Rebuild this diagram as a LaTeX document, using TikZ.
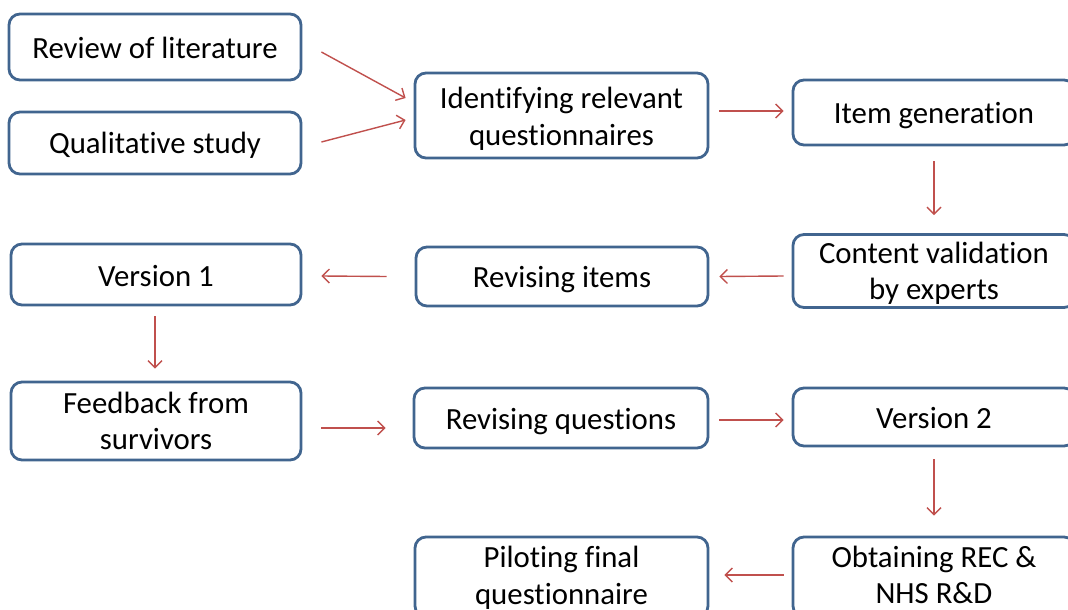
\documentclass[tikz,border=0pt]{standalone}
\usepackage{fontspec}
\setmainfont{Carlito}[Ligatures={NoCommon}]
\usetikzlibrary{calc,arrows.meta}
\definecolor{boxblue}{HTML}{41658F}
\definecolor{arrred}{HTML}{C0504D}
\newcommand{\twolines}[3]{\raisebox{#1}[\height][\depth]{\begin{tabular}{@{}c@{}}#2\\#3\end{tabular}}}
\newcommand{\oneline}[2]{\raisebox{#1}[\height][\depth]{#2}}
\tikzset{
  box/.style={draw=boxblue, line width=2.8pt, rounded corners=11pt, fill=white,
    align=center, font=\fontsize{30.8}{36.5}\selectfont, inner sep=0pt},
  arr/.style={draw=arrred, line width=1.4pt, -{Straight Barb[length=7pt,width=14pt,line width=1.4pt]}}
}
\begin{document}
\begin{tikzpicture}[x=1pt,y=-1pt]
\useasboundingbox (0,0) rectangle (1068,610);
\clip (0,0) rectangle (1068,610);
\node[box, minimum width=292pt, minimum height=66pt] (rev) at (155,47) {\oneline{-1pt}{Review of literature}};
\node[box, minimum width=292pt, minimum height=62pt] (qual) at (155,143) {\oneline{-2pt}{Qualitative study}};
\node[box, minimum width=293pt, minimum height=85pt] (ident) at (561.5,115.5) {\twolines{-4pt}{Identifying relevant}{questionnaires}};
\node[box, minimum width=282pt, minimum height=65pt] (item) at (934,112.5) {\oneline{-3pt}{Item generation}};
\node[box, minimum width=282pt, minimum height=70pt] (content) at (934,271) {\twolines{-3pt}{Content validation}{by experts}};
\node[box, minimum width=290pt, minimum height=61pt] (v1) at (156,274.5) {\oneline{-2pt}{Version 1}};
\node[box, minimum width=292pt, minimum height=59pt] (revitems) at (562,276.5) {\oneline{-3pt}{Revising items}};
\node[box, minimum width=290pt, minimum height=78pt] (feedback) at (156,421) {\twolines{-3pt}{Feedback from}{survivors}};
\node[box, minimum width=294pt, minimum height=60pt] (revq) at (561,418) {\oneline{-3.5pt}{Revising questions}};
\node[box, minimum width=282pt, minimum height=58pt] (v2) at (934,417) {\oneline{-1pt}{Version 2}};
\node[box, minimum width=293pt, minimum height=80pt] (pilot) at (561.5,577) {\twolines{-1.5pt}{Piloting final}{questionnaire}};
\node[box, minimum width=282pt, minimum height=80pt] (obtain) at (934,577) {\twolines{-1pt}{Obtaining REC \&}{NHS R\&D}};

\draw[arr] ($(rev.east)+(19,5)$) -- ($(ident.west)+(-8,-17.5)$);
\draw[arr] ($(qual.east)+(19,-1)$) -- ($(ident.west)+(-8,4.5)$);
\draw[arr] ($(ident.east)+(10,-4.5)$) -- ($(item.west)+(-8,-1.5)$);
\draw[arr] ($(item.south)+(0,15)$) -- ($(content.north)+(0,-18)$);
\draw[arr] ($(content.west)+(-8,5)$) -- ($(revitems.east)+(10,0)$);
\draw[arr] ($(revitems.west)+(-28,0)$) -- ($(v1.east)+(19,1.5)$);
\draw[arr] ($(v1.south)+(-1,10)$) -- ($(feedback.north)+(-1,-12)$);
\draw[arr] ($(feedback.east)+(19,7)$) -- ($(revq.west)+(-27,10)$);
\draw[arr] ($(revq.east)+(10,2)$) -- ($(v2.west)+(-8,3)$);
\draw[arr] ($(v2.south)+(0,12)$) -- ($(obtain.north)+(0,-20)$);
\draw[arr] ($(obtain.west)+(-8,-2)$) -- ($(pilot.east)+(15,-2)$);
\end{tikzpicture}
\end{document}
